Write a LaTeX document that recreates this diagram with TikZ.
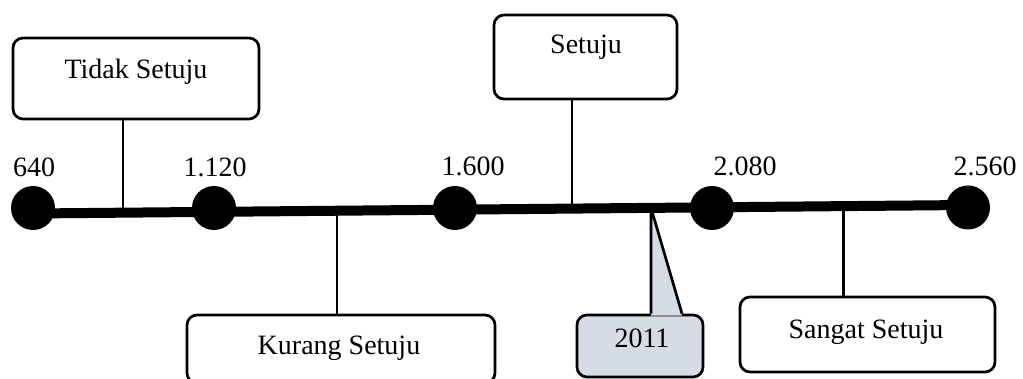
\documentclass[tikz,border=0pt]{standalone}
\usepackage{fontspec}
\setmainfont{Liberation Serif}
\usetikzlibrary{calc}
\definecolor{calloutfill}{HTML}{D6DCE5}
\begin{document}
\begin{tikzpicture}[x=1pt,y=-1pt,
  box/.style={draw, line width=2.7pt, rounded corners=10pt, inner sep=0pt, fill=white, rectangle},
  txt/.style={font=\fontsize{28}{33}\selectfont, inner sep=0pt, anchor=base},
  dot/.style={circle, fill=black, minimum size=44pt, inner sep=0pt},
  stem/.style={line width=2.7pt, line join=round},
  axis/.style={line width=10pt}]
\useasboundingbox (0,0) rectangle (1023,379);

% boxes
\node[box, minimum width=246pt, minimum height=81pt] (tbox) at (136,78.5) {};
\node[box, minimum width=183pt, minimum height=84pt] (sbox) at (585.5,57) {};
\node[box, minimum width=308pt, minimum height=68pt] (kbox) at (341,349) {};
\node[box, minimum width=255pt, minimum height=75pt] (gbox) at (867.5,334.5) {};
\node[box, fill=calloutfill, minimum width=126pt, minimum height=62pt] (ybox) at (640,346) {};

% axis reference points
\coordinate (a0) at (33,213.5);
\coordinate (a1) at (968,205);
\path (a0) -- (a1)
  coordinate[pos=0.0963] (s1)
  coordinate[pos=0.325] (s2)
  coordinate[pos=0.5765] (s3)
  coordinate[pos=0.661] (s4)
  coordinate[pos=0.867] (s5);

% callout pointer
\fill[calloutfill] (s4) -- ($(s4 |- ybox.north)+(0,2)$) -- ($(ybox.north)+(42,2)$) -- cycle;
\draw[stem] (s4 |- ybox.north) -- (s4) -- ($(ybox.north)+(42,0)$);

% stems
\draw[stem] (s1) -- (s1 |- tbox.south);
\draw[stem] (s2) -- (s2 |- kbox.north);
\draw[stem] (s3) -- (s3 |- sbox.south);
\draw[stem] (s5) -- (s5 |- gbox.north);

% axis
\draw[axis] (a0) -- (a1);

% dots
\node[dot] (d1) at (33,208) {};
\node[dot] (d2) at (214,208) {};
\node[dot] (d3) at (455,208) {};
\node[dot] (d4) at (712,208) {};
\node[dot] (d5) at (968,207.5) {};

% value labels
\node[txt] (l1) at (34,177) {640};
\node[txt] (l2) at (215,177) {1.120};
\node[txt] (l3) at (473,176) {1.600};
\node[txt] (l4) at (745,176) {2.080};
\node[txt] (l5) at (985,176) {2.560};

% box texts
\node[txt] (tt) at (136,79) {Tidak Setuju};
\node[txt] (st) at (586,54) {Setuju};
\node[txt] (kt) at (339,355) {Kurang Setuju};
\node[txt] (gt) at (866,338) {Sangat Setuju};
\node[txt] (yt) at (642,348) {2011};
\end{tikzpicture}
\end{document}
